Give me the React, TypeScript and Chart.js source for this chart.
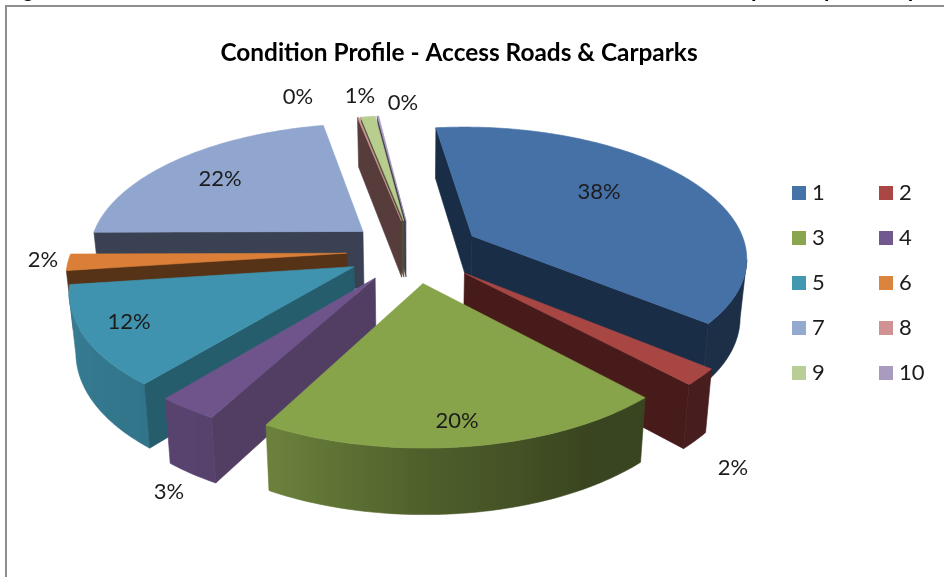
import React, { useEffect, useRef } from "react";
import { Chart, registerables } from "chart.js";

Chart.register(...registerables);

// Condition grades and their share of the network.
const grades = ["1", "2", "3", "4", "5", "6", "7", "8", "9", "10"];
const shares = [38, 2, 20, 3, 12, 2, 22, 0.1, 1, 0.1];

const topColors = ["#4571A7", "#A84644", "#88A44B", "#6F548C", "#3F93AE", "#DB7F38", "#90A6CF", "#D29594", "#B8CE8E", "#A898C0"];
const legendColors = ["#4572A7", "#AA4643", "#89A54E", "#71588F", "#4198AF", "#DB843D", "#93A9CF", "#D19392", "#B9CD96", "#A99BBD"];
const sideColors = ["#1A2D47", "#471B1A", "#3A4520", "#513E62", "#265D6D", "#563216", "#3A4152", "#573C3C", "#4A5238", "#443C50"];

// Back-to-front painting order of the exploded slices.
const paintOrder = [6, 9, 8, 7, 0, 5, 4, 3, 1, 2];

// Where each percentage label sits on the canvas.
const labelSpots: [number, number][] = [
  [599, 192], [733, 468], [457, 421], [169, 492], [129, 322],
  [43, 260], [220, 179], [298, 97], [360, 96], [403, 103],
];

const TITLE = "Condition Profile - Access Roads & Carparks";
const FONT = "Lato, 'Open Sans', sans-serif";

// Descenders of the page heading that runs above the frame.
const headingBits: [string, number][] = [["g", 28], ["p", 757], ["(", 825], [")", 912]];

// View of the 3D pie: perspective strength, tilt, slice thickness and explosion.
const VIEW = { zoom: 1.146, depthX: 0.00055, depthY: 0.00054, tilt: 0.47, height: 58, heightK: 0.025, taper: 0.02, explode: 0.245 };

type Pt = [number, number];

// Outer wall brightness, by direction clockwise from the top of the pie.
const wallShadeStops: Pt[] = [[0, 0.42], [150, 0.42], [180, 0.58], [206, 0.78], [260, 0.85], [360, 0.85]];

function wallShade(deg: number) {
  const d = ((deg % 360) + 360) % 360;
  for (let i = 1; i < wallShadeStops.length; i++) {
    const [a, va] = wallShadeStops[i - 1];
    const [b, vb] = wallShadeStops[i];
    if (d <= b) return va + ((vb - va) * (d - a)) / (b - a);
  }
  return 0.85;
}

function tint(hex: string, f: number) {
  const n = parseInt(hex.slice(1), 16);
  const c = [(n >> 16) & 255, (n >> 8) & 255, n & 255].map((v) => Math.round(v * f));
  return `rgb(${c[0]},${c[1]},${c[2]})`;
}

function fillPoly(ctx: CanvasRenderingContext2D, pts: Pt[], color: string | CanvasGradient) {
  ctx.beginPath();
  pts.forEach((p, i) => (i ? ctx.lineTo(p[0], p[1]) : ctx.moveTo(p[0], p[1])));
  ctx.closePath();
  ctx.fillStyle = color;
  ctx.strokeStyle = color;
  ctx.lineWidth = 0.6;
  ctx.fill();
  ctx.stroke();
}

// True when a wall hanging below edge a-b faces the viewer, given a point inside the slice.
function facesViewer(a: Pt, b: Pt, inside: Pt) {
  const ex = b[0] - a[0];
  const ey = b[1] - a[1];
  const sideInside = ex * (inside[1] - a[1]) - ey * (inside[0] - a[0]);
  return sideInside * ex < 0;
}

const pie3d = {
  id: "pie3d",
  beforeDatasetsDraw(chart: Chart) {
    const ctx = chart.ctx;
    const arcs = chart.getDatasetMeta(0).data as any[];
    ctx.save();
    for (const i of paintOrder) {
      const arc = arcs[i];
      const R = arc.outerRadius * VIEW.zoom;
      const t1 = arc.startAngle + Math.PI / 2;
      const t2 = arc.endAngle + Math.PI / 2;
      const mid = (t1 + t2) / 2;
      const ex = Math.sin(mid) * R * VIEW.explode;
      const ey = -Math.cos(mid) * R * VIEW.explode;

      const project = (X: number, Y: number, z: number): Pt => [
        arc.x + (X / (1 - VIEW.depthX * Y)) * (1 - VIEW.taper * z),
        arc.y + (VIEW.tilt * Y) / (1 - VIEW.depthY * Y) + (VIEW.height + VIEW.heightK * Y) * z,
      ];
      const rim = (t: number, z: number) => project(ex + Math.sin(t) * R, ey - Math.cos(t) * R, z);
      const apex0 = project(ex, ey, 0);
      const apex1 = project(ex, ey, 1);

      const steps = Math.max(2, Math.ceil((t2 - t1) / (Math.PI / 180)));
      const angles = Array.from({ length: steps + 1 }, (_, k) => t1 + ((t2 - t1) * k) / steps);
      const inner = rim(mid, 0);
      const inside: Pt = [(apex0[0] + inner[0]) / 2, (apex0[1] + inner[1]) / 2];

      // Curved outer wall: one shape with a left-to-right light gradient.
      const front = angles.filter((t, k) => {
        const prev = angles[Math.max(0, k - 1)];
        const next = angles[Math.min(steps, k + 1)];
        return facesViewer(rim(prev, 0), rim(next, 0), apex0);
      });
      if (front.length > 1) {
        const topEdge = front.map((t) => rim(t, 0));
        const lowEdge = front.map((t) => rim(t, 1));
        const xs = [...topEdge, ...lowEdge].map((p) => p[0]);
        const xMin = Math.min(...xs);
        const xMax = Math.max(...xs);
        const grad = ctx.createLinearGradient(xMin, 0, xMax, 0);
        front.forEach((t, k) => {
          const off = (topEdge[k][0] - xMin) / Math.max(1, xMax - xMin);
          grad.addColorStop(off, tint(topColors[i], wallShade((t * 180) / Math.PI)));
        });
        fillPoly(ctx, [...topEdge, ...lowEdge.reverse()], grad);
      }
      // The two flat cut walls.
      for (const t of [t1, t2]) {
        const p = rim(t, 0);
        if (facesViewer(apex0, p, inside)) fillPoly(ctx, [apex0, p, rim(t, 1), apex1], sideColors[i]);
      }
      // Top face.
      fillPoly(ctx, [apex0, ...angles.map((t) => rim(t, 0))], topColors[i]);
    }
    ctx.restore();
    return false;
  },
  afterDraw(chart: Chart) {
    const ctx = chart.ctx;
    const total = shares.reduce((a, b) => a + b, 0);
    ctx.save();
    ctx.textAlign = "center";
    ctx.textBaseline = "middle";

    ctx.fillStyle = "#000";
    ctx.font = `bold 24.4px ${FONT}`;
    ctx.fillText(TITLE, 459, 53);

    ctx.fillStyle = "#1c1c1c";
    ctx.font = `22px ${FONT}`;
    shares.forEach((v, i) => {
      ctx.fillText(`${Math.round((v / total) * 100)}%`, labelSpots[i][0], labelSpots[i][1]);
    });

    // Two-column legend.
    ctx.textAlign = "left";
    grades.forEach((g, i) => {
      const col = i % 2;
      const row = Math.floor(i / 2);
      const x = col ? 879 : 792;
      const y = 186 + row * 45;
      ctx.fillStyle = legendColors[i];
      ctx.fillRect(x, y, 14, 14);
      ctx.fillStyle = "#1c1c1c";
      ctx.fillText(g, x + 20, y + 7);
    });

    // Heading cut off by the top of the page.
    ctx.textAlign = "center";
    ctx.textBaseline = "alphabetic";
    ctx.fillStyle = "#000";
    ctx.font = "bold 20px 'Liberation Sans', sans-serif";
    headingBits.forEach(([glyph, x]) => ctx.fillText(glyph, x, -3));
    ctx.restore();
  },
};

export default function App() {
  const ref = useRef<HTMLCanvasElement>(null);
  useEffect(() => {
    const chart = new Chart(ref.current as HTMLCanvasElement, {
      type: "pie",
      data: { labels: grades, datasets: [{ data: shares, backgroundColor: topColors, borderWidth: 0 }] },
      options: {
        responsive: false,
        animation: false,
        rotation: -7,
        layout: { padding: { top: 11, bottom: 86, left: 0, right: 116 } },
        plugins: { legend: { display: false }, tooltip: { enabled: false }, title: { display: false } },
      },
      plugins: [pie3d],
    } as any);
    return () => chart.destroy();
  }, []);
  return (
    <div style={{ position: "absolute", left: 0, top: 0, width: 944, height: 577, overflow: "hidden", background: "#fff" }}>
      <canvas ref={ref} width={944} height={577} style={{ display: "block" }} />
      <div style={{ position: "absolute", left: 5, top: 5, right: 0, bottom: 0, borderLeft: "2px solid #8e8e8e", borderTop: "2px solid #8e8e8e" }} />
    </div>
  );
}
